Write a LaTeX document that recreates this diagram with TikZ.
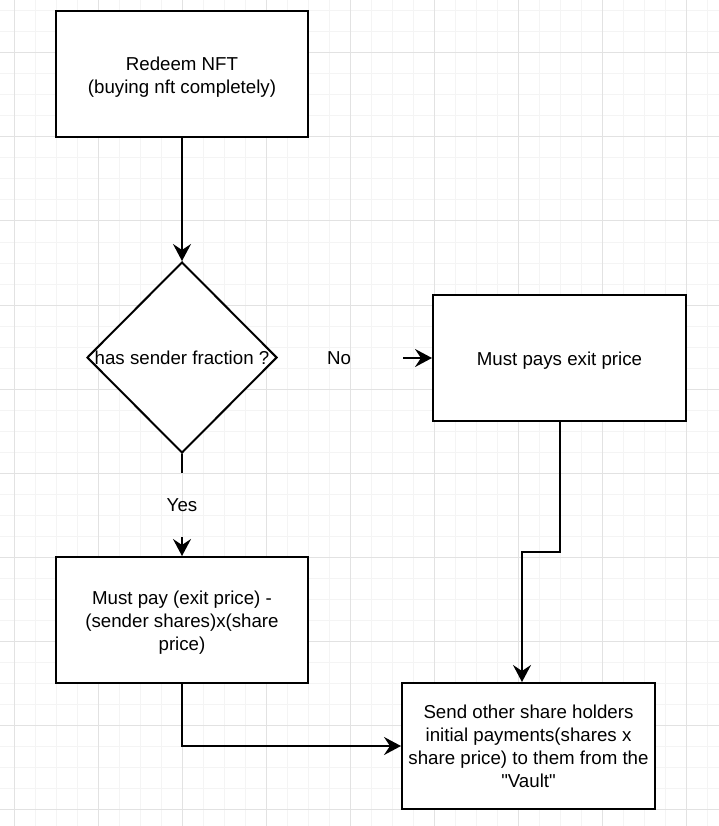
\documentclass[tikz,border=0pt]{standalone}
\usepackage{fontspec}
\setmainfont{Liberation Sans}
\newfontfamily\qfont{Liberation Sans}
\usetikzlibrary{arrows.meta,shapes.geometric}
\definecolor{gridminor}{HTML}{F4F4F4}
\definecolor{gridmajor}{HTML}{E2E2E2}
\newcommand{\boxtext}[1]{\raisebox{-2.5pt}[\height][\depth]{\begin{tabular}{@{}c@{}}#1\end{tabular}}}
\begin{document}
\begin{tikzpicture}[x=1pt,y=-1pt,
  box/.style={draw=black,line width=2pt,fill=white,minimum width=252pt,minimum height=126pt,inner sep=0pt,align=center,font=\fontsize{18.7pt}{23pt}\selectfont},
  decision/.style={draw=black,line width=2pt,fill=white,diamond,aspect=1,minimum width=190pt,minimum height=191pt,inner sep=0pt,font=\fontsize{18.7pt}{23pt}\selectfont},
  lbl/.style={inner sep=0pt,font=\fontsize{18.7pt}{23pt}\selectfont},
  conn/.style={line width=2pt,line join=miter,draw=black},
  arr/.style={conn,-{Stealth[length=17pt,width=18pt,inset=6pt]}}]
\useasboundingbox (0,0) rectangle (719,826);
\fill[white] (0,0) rectangle (719,826);
% grid
\foreach \x in {-7,14,...,726} {\draw[gridminor,line width=1pt] (\x,0) -- (\x,826);}
\foreach \y in {11,32,...,826} {\draw[gridminor,line width=1pt] (0,\y) -- (719,\y);}
\foreach \x in {14,98,...,726} {\draw[gridmajor,line width=1pt] (\x,0) -- (\x,826);}
\foreach \y in {53,137,...,826} {\draw[gridmajor,line width=1pt] (0,\y) -- (719,\y);}
% nodes
\node[box] (redeem) at (182,74.5) {\boxtext{Redeem NFT\\(buying nft completely)}};
\node[decision] (dec) at (182,357.5) {\makebox[0pt]{has sender fraction ?}};
\node[box,minimum width=253pt] (exit) at (559.5,358) {\boxtext{Must pays exit price}};
\node[box] (partial) at (182,620) {\boxtext{Must pay (exit price) -\\(sender shares)x(share\\price)}};
\node[box,minimum width=253pt] (send) at (528.5,746) {\boxtext{Send other share holders\\initial payments(shares x\\share price) to them from the\\{\qfont"}Vault{\qfont"}}};
\node[lbl] (no) at (339,358) {No};
\node[lbl] (yes) at (182,505) {Yes};
\coordinate (noStart) at (403,358);
\coordinate (yesEnd) at (182,473);
\coordinate (yesStart) at (182,537);
\coordinate (bend) at (522,552);
% connectors
\draw[arr] (redeem.south) -- (dec.north);
\draw[arr] (noStart) -- (exit.west);
\draw[conn] (dec.south) -- (yesEnd);
\draw[arr] (yesStart) -- (partial.north);
\draw[arr] (partial.south) |- (send.west);
\draw[arr] (exit.south) |- (bend) -- (bend |- send.north);
\end{tikzpicture}
\end{document}
